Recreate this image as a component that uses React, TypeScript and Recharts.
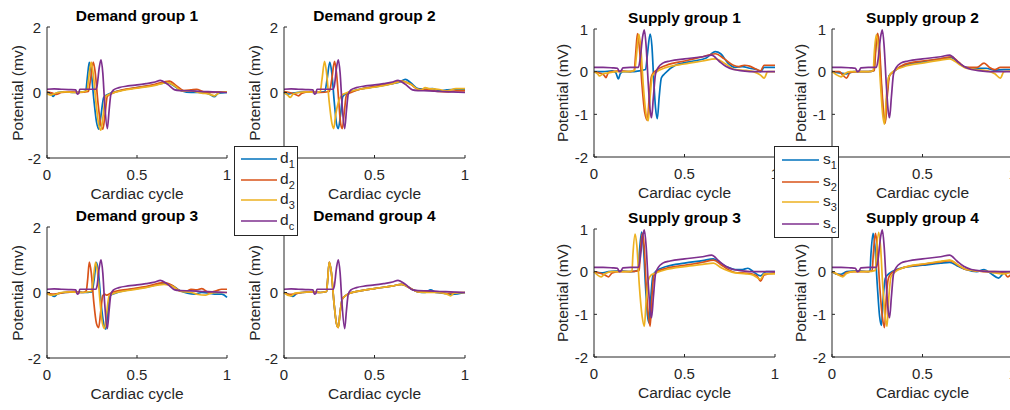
import React from 'react';
import { LineChart, Line, XAxis, YAxis } from 'recharts';

type Pt = [number, number];

const COLORS = ['#0072BD', '#D95319', '#EDB120', '#7E2F8E'];
const FONT = '"Liberation Sans", Arial, Helvetica, sans-serif';
const INK = '#262626';

const xTicks = [0, 0.5, 1];
const demandTicks = [-2, 0, 2];
const supplyTicks = [-2, -1, 0, 1];

const demandTitles = ['Demand group 1', 'Demand group 2', 'Demand group 3', 'Demand group 4'];
const supplyTitles = ['Supply group 1', 'Supply group 2', 'Supply group 3', 'Supply group 4'];
const demandNames = ['1', '2', '3', 'c'];
const supplyNames = ['1', '2', '3', 'c'];

// shared reference waveforms
const dcWave: Pt[] = [[0,0.1],[0.04,0.11],[0.08,0.1],[0.12,0.09],[0.16,0.08],[0.168,-0.05],[0.176,-0.03],[0.182,0.1],[0.22,0.1],[0.27,0.1],[0.278,0.2],[0.29,0.75],[0.3,1.0],[0.31,0.6],[0.32,-0.3],[0.335,-1.1],[0.345,-0.55],[0.355,-0.05],[0.37,0.08],[0.4,0.15],[0.45,0.2],[0.5,0.23],[0.55,0.27],[0.6,0.32],[0.63,0.37],[0.67,0.25],[0.71,0.08],[0.74,0.06],[0.8,0.05],[0.86,0.03],[0.92,0.02],[1,0.0]];
const scWave: Pt[] = [[0,0.1],[0.05,0.1],[0.1,0.09],[0.13,0.08],[0.14,0.0],[0.15,0.02],[0.16,0.09],[0.2,0.1],[0.245,0.1],[0.255,0.3],[0.268,0.8],[0.278,0.98],[0.288,0.6],[0.3,-0.3],[0.31,-0.9],[0.318,-1.08],[0.328,-0.6],[0.34,-0.05],[0.355,0.1],[0.38,0.2],[0.42,0.25],[0.5,0.3],[0.6,0.35],[0.65,0.39],[0.69,0.25],[0.73,0.12],[0.77,0.05],[0.82,0.02],[0.9,0.0],[1,0.0]];

// demand group 1
const d1g1: Pt[] = [[0,0.0],[0.02,-0.03],[0.035,-0.12],[0.045,-0.05],[0.06,0.0],[0.1,0.02],[0.15,0.0],[0.2,0.02],[0.215,0.05],[0.225,0.5],[0.235,0.92],[0.245,0.65],[0.26,-0.2],[0.275,-0.9],[0.288,-1.12],[0.3,-0.7],[0.315,-0.15],[0.34,-0.05],[0.4,0.05],[0.5,0.15],[0.6,0.23],[0.67,0.3],[0.7,0.22],[0.75,0.05],[0.8,0.0],[0.85,0.0],[0.9,-0.04],[0.93,-0.13],[0.95,-0.03],[1,0.0]];
const d2g1: Pt[] = [[0,0.02],[0.03,-0.02],[0.05,-0.06],[0.08,0.0],[0.12,0.02],[0.18,0.0],[0.23,0.03],[0.242,0.4],[0.257,0.93],[0.268,0.6],[0.283,-0.3],[0.298,-0.95],[0.31,-1.12],[0.322,-0.7],[0.335,-0.12],[0.36,-0.03],[0.42,0.08],[0.5,0.15],[0.6,0.25],[0.68,0.35],[0.72,0.2],[0.76,0.06],[0.8,0.08],[0.83,0.1],[0.87,0.02],[0.92,0.0],[0.96,0.02],[1,0.02]];
const d3g1: Pt[] = [[0,-0.03],[0.02,-0.08],[0.04,-0.04],[0.06,0.0],[0.1,0.02],[0.15,0.0],[0.2,0.02],[0.222,0.05],[0.232,0.45],[0.245,0.93],[0.256,0.6],[0.272,-0.3],[0.288,-1.0],[0.3,-1.15],[0.312,-0.7],[0.325,-0.12],[0.35,-0.05],[0.42,0.06],[0.5,0.13],[0.6,0.22],[0.67,0.3],[0.71,0.2],[0.75,0.05],[0.8,0.05],[0.86,-0.02],[0.9,-0.05],[0.93,-0.1],[0.96,0.0],[1,0.02]];

// demand group 2
const d1g2: Pt[] = [[0,0.02],[0.02,-0.05],[0.04,-0.03],[0.07,0.0],[0.12,0.02],[0.18,0.0],[0.225,0.03],[0.238,0.4],[0.253,0.93],[0.264,0.6],[0.278,-0.3],[0.29,-0.95],[0.3,-1.1],[0.312,-0.7],[0.325,-0.12],[0.35,-0.02],[0.42,0.1],[0.5,0.17],[0.6,0.27],[0.64,0.32],[0.67,0.4],[0.7,0.3],[0.74,0.12],[0.78,0.1],[0.82,0.12],[0.86,0.05],[0.9,0.08],[0.95,0.1],[1,0.1]];
const d2g2: Pt[] = [[0,0.03],[0.03,0.0],[0.06,-0.05],[0.08,-0.1],[0.1,-0.02],[0.14,0.02],[0.2,0.0],[0.25,0.03],[0.264,0.4],[0.279,0.95],[0.29,0.6],[0.303,-0.3],[0.313,-0.95],[0.322,-1.1],[0.333,-0.6],[0.345,-0.08],[0.37,0.0],[0.42,0.1],[0.5,0.18],[0.6,0.28],[0.65,0.35],[0.7,0.25],[0.74,0.1],[0.8,0.08],[0.85,0.03],[0.9,0.02],[0.95,0.05],[1,0.05]];
const d3g2: Pt[] = [[0,0.0],[0.02,-0.08],[0.035,-0.15],[0.05,-0.05],[0.08,0.0],[0.12,0.02],[0.18,0.0],[0.2,0.03],[0.21,0.4],[0.224,0.95],[0.235,0.6],[0.25,-0.3],[0.265,-0.95],[0.275,-1.1],[0.285,-0.7],[0.3,-0.3],[0.32,-0.08],[0.34,-0.02],[0.42,0.1],[0.5,0.16],[0.6,0.27],[0.65,0.34],[0.7,0.25],[0.74,0.1],[0.76,0.08],[0.78,0.15],[0.8,0.12],[0.85,0.1],[0.9,0.05],[0.95,0.12],[1,0.12]];

// demand group 3
const d1g3: Pt[] = [[0,-0.02],[0.02,-0.06],[0.04,-0.12],[0.06,-0.04],[0.1,0.0],[0.15,0.02],[0.2,0.0],[0.25,0.02],[0.262,0.4],[0.275,0.92],[0.286,0.6],[0.3,-0.3],[0.315,-0.95],[0.327,-1.12],[0.338,-0.6],[0.35,-0.1],[0.38,-0.02],[0.45,0.08],[0.55,0.16],[0.65,0.27],[0.7,0.2],[0.74,0.05],[0.78,-0.02],[0.82,-0.05],[0.86,0.0],[0.9,-0.02],[0.94,-0.05],[0.97,-0.05],[1,-0.15]];
const d2g3: Pt[] = [[0,0.0],[0.03,-0.05],[0.06,-0.03],[0.1,0.0],[0.15,0.02],[0.2,0.0],[0.218,0.05],[0.226,0.4],[0.235,0.93],[0.246,0.6],[0.26,-0.3],[0.275,-0.95],[0.287,-1.07],[0.298,-0.6],[0.31,-0.1],[0.32,-0.05],[0.33,-0.08],[0.36,0.0],[0.45,0.1],[0.55,0.18],[0.65,0.3],[0.7,0.2],[0.74,0.05],[0.78,0.05],[0.8,0.1],[0.83,0.08],[0.86,0.12],[0.9,0.0],[0.94,0.05],[0.97,0.1],[1,0.1]];
const d3g3: Pt[] = [[0,-0.03],[0.02,-0.08],[0.05,-0.06],[0.08,0.0],[0.12,0.02],[0.18,0.0],[0.245,0.03],[0.257,0.4],[0.27,0.93],[0.281,0.6],[0.295,-0.3],[0.308,-0.95],[0.32,-1.1],[0.332,-0.6],[0.345,-0.1],[0.37,-0.03],[0.45,0.06],[0.55,0.15],[0.65,0.25],[0.7,0.18],[0.74,0.04],[0.8,0.0],[0.84,-0.06],[0.88,-0.08],[0.9,-0.04],[0.95,0.0],[1,0.0]];

// demand group 4
const d1g4: Pt[] = [[0,0.0],[0.02,-0.04],[0.05,-0.12],[0.07,-0.03],[0.1,0.0],[0.15,0.02],[0.2,0.0],[0.235,0.03],[0.24,0.3],[0.25,0.92],[0.262,0.6],[0.276,-0.3],[0.29,-0.95],[0.3,-1.06],[0.31,-0.6],[0.322,-0.2],[0.335,-0.12],[0.36,-0.03],[0.42,0.05],[0.5,0.12],[0.6,0.2],[0.65,0.25],[0.7,0.12],[0.74,0.02],[0.78,0.0],[0.81,0.08],[0.84,0.0],[0.9,-0.03],[0.93,-0.06],[1,0.0]];
const d2g4: Pt[] = [[0,0.0],[0.03,-0.06],[0.06,-0.04],[0.1,0.0],[0.15,0.02],[0.2,0.0],[0.235,0.03],[0.24,0.3],[0.25,0.93],[0.262,0.6],[0.276,-0.3],[0.29,-0.95],[0.3,-1.07],[0.31,-0.6],[0.322,-0.2],[0.335,-0.12],[0.36,-0.03],[0.42,0.05],[0.5,0.12],[0.6,0.2],[0.65,0.25],[0.7,0.12],[0.74,0.02],[0.8,0.02],[0.86,0.0],[0.9,-0.03],[0.95,0.0],[1,0.0]];
const d3g4: Pt[] = [[0,0.0],[0.02,-0.08],[0.04,-0.1],[0.06,-0.02],[0.1,0.0],[0.15,0.02],[0.2,0.0],[0.235,0.03],[0.24,0.3],[0.25,0.93],[0.262,0.6],[0.276,-0.3],[0.29,-0.95],[0.3,-1.07],[0.31,-0.6],[0.322,-0.2],[0.335,-0.12],[0.36,-0.03],[0.42,0.05],[0.5,0.12],[0.6,0.2],[0.65,0.25],[0.7,0.12],[0.74,0.02],[0.8,0.0],[0.85,0.0],[0.9,-0.05],[0.92,-0.1],[0.94,-0.02],[1,0.0]];

// supply group 1
const s1g1: Pt[] = [[0,0.0],[0.05,0.0],[0.1,0.02],[0.12,-0.02],[0.135,-0.17],[0.145,-0.05],[0.16,0.0],[0.2,0.0],[0.25,0.02],[0.285,0.05],[0.295,0.4],[0.31,0.88],[0.32,0.6],[0.33,-0.2],[0.34,-0.85],[0.35,-1.1],[0.36,-0.6],[0.372,-0.15],[0.39,-0.05],[0.45,0.15],[0.55,0.25],[0.62,0.32],[0.67,0.47],[0.7,0.42],[0.74,0.2],[0.78,0.1],[0.82,0.12],[0.86,0.08],[0.9,0.05],[0.92,0.0],[0.94,0.1],[1,0.1]];
const s2g1: Pt[] = [[0,0.0],[0.03,-0.03],[0.055,-0.08],[0.066,-0.14],[0.08,-0.02],[0.1,0.0],[0.15,0.02],[0.2,0.0],[0.222,0.03],[0.23,0.4],[0.24,0.89],[0.25,0.6],[0.265,-0.3],[0.28,-0.95],[0.295,-1.14],[0.305,-0.6],[0.318,-0.1],[0.335,0.0],[0.4,0.15],[0.5,0.25],[0.6,0.35],[0.67,0.42],[0.72,0.3],[0.77,0.15],[0.8,0.12],[0.83,0.15],[0.86,0.13],[0.9,0.05],[0.92,0.02],[0.94,0.15],[1,0.15]];
const s3g1: Pt[] = [[0,0.0],[0.02,-0.05],[0.03,-0.1],[0.05,-0.05],[0.08,-0.03],[0.12,0.0],[0.18,0.0],[0.225,0.03],[0.235,0.4],[0.247,0.88],[0.258,0.6],[0.272,-0.3],[0.288,-1.0],[0.3,-1.15],[0.31,-0.6],[0.322,-0.1],[0.34,-0.02],[0.4,0.1],[0.5,0.18],[0.6,0.25],[0.67,0.3],[0.72,0.2],[0.78,0.05],[0.84,0.03],[0.88,0.0],[0.92,-0.08],[0.94,-0.15],[0.96,0.0],[1,0.0]];

// supply group 2
const s1g2: Pt[] = [[0,0.0],[0.04,-0.03],[0.08,-0.05],[0.12,0.0],[0.2,0.0],[0.232,0.03],[0.238,0.4],[0.25,0.88],[0.26,0.6],[0.272,-0.3],[0.284,-1.0],[0.293,-1.2],[0.303,-0.6],[0.315,-0.1],[0.34,0.0],[0.4,0.15],[0.5,0.23],[0.6,0.3],[0.66,0.33],[0.7,0.2],[0.74,0.1],[0.8,0.08],[0.85,0.08],[0.9,0.03],[0.95,0.05],[1,0.05]];
const s2g2: Pt[] = [[0,0.0],[0.04,0.0],[0.06,-0.08],[0.08,-0.15],[0.1,-0.02],[0.14,0.0],[0.2,0.0],[0.234,0.03],[0.24,0.4],[0.252,0.9],[0.262,0.6],[0.274,-0.3],[0.286,-1.0],[0.295,-1.2],[0.305,-0.6],[0.318,-0.1],[0.34,0.0],[0.4,0.17],[0.5,0.25],[0.6,0.3],[0.66,0.35],[0.7,0.22],[0.74,0.1],[0.8,0.1],[0.84,0.2],[0.87,0.1],[0.9,0.05],[0.93,0.1],[1,0.1]];
const s3g2: Pt[] = [[0,0.0],[0.02,-0.06],[0.05,-0.12],[0.07,-0.05],[0.1,0.0],[0.2,0.0],[0.228,0.03],[0.233,0.4],[0.245,0.86],[0.255,0.6],[0.268,-0.3],[0.28,-1.0],[0.29,-1.23],[0.3,-0.6],[0.312,-0.15],[0.33,-0.02],[0.4,0.12],[0.5,0.2],[0.6,0.27],[0.65,0.3],[0.7,0.18],[0.74,0.08],[0.8,0.05],[0.86,0.02],[0.9,-0.05],[0.93,-0.15],[0.95,0.0],[1,0.02]];

// supply group 3
const s1g3: Pt[] = [[0,0.0],[0.04,-0.03],[0.08,0.0],[0.15,0.02],[0.2,0.0],[0.245,0.03],[0.25,0.4],[0.263,0.93],[0.273,0.6],[0.284,-0.3],[0.295,-1.0],[0.304,-1.2],[0.314,-0.6],[0.325,-0.1],[0.345,0.02],[0.4,0.12],[0.5,0.2],[0.6,0.26],[0.66,0.3],[0.7,0.2],[0.74,0.1],[0.78,0.05],[0.82,0.05],[0.85,0.08],[0.88,0.0],[0.92,-0.1],[0.95,0.0],[1,0.0]];
const s2g3: Pt[] = [[0,0.0],[0.03,-0.03],[0.06,-0.08],[0.08,-0.12],[0.1,-0.03],[0.14,0.0],[0.2,0.0],[0.25,0.03],[0.255,0.4],[0.267,0.9],[0.277,0.6],[0.288,-0.3],[0.3,-1.0],[0.31,-1.28],[0.32,-0.6],[0.33,-0.1],[0.35,0.0],[0.4,0.08],[0.5,0.15],[0.6,0.22],[0.66,0.27],[0.7,0.17],[0.74,0.05],[0.78,-0.02],[0.82,-0.03],[0.87,-0.05],[0.9,-0.1],[0.92,-0.22],[0.94,-0.08],[1,-0.03]];
const s3g3: Pt[] = [[0,0.0],[0.02,-0.08],[0.04,-0.12],[0.06,-0.05],[0.1,0.0],[0.2,0.0],[0.21,0.03],[0.215,0.4],[0.227,0.88],[0.237,0.6],[0.25,-0.3],[0.266,-1.05],[0.278,-1.28],[0.288,-0.7],[0.3,-0.2],[0.315,-0.08],[0.33,-0.05],[0.4,0.05],[0.5,0.12],[0.6,0.17],[0.66,0.2],[0.7,0.1],[0.74,0.02],[0.78,-0.03],[0.84,-0.05],[0.88,-0.08],[0.92,-0.18],[0.94,-0.05],[1,-0.05]];

// supply group 4
const s1g4: Pt[] = [[0,0.0],[0.02,-0.05],[0.05,-0.06],[0.08,0.0],[0.15,0.02],[0.2,0.0],[0.21,0.03],[0.215,0.4],[0.227,0.9],[0.237,0.6],[0.25,-0.3],[0.263,-1.05],[0.273,-1.26],[0.283,-0.6],[0.295,-0.15],[0.32,-0.03],[0.4,0.1],[0.5,0.15],[0.6,0.2],[0.65,0.22],[0.7,0.12],[0.74,0.05],[0.8,0.0],[0.84,0.05],[0.88,-0.05],[0.92,-0.15],[0.95,-0.03],[1,0.0]];
const s2g4: Pt[] = [[0,0.0],[0.03,-0.06],[0.06,-0.1],[0.08,-0.02],[0.12,0.0],[0.2,0.0],[0.222,0.03],[0.228,0.4],[0.24,0.9],[0.25,0.6],[0.263,-0.3],[0.278,-1.05],[0.29,-1.31],[0.3,-0.6],[0.312,-0.15],[0.33,-0.03],[0.4,0.1],[0.5,0.17],[0.6,0.23],[0.65,0.26],[0.7,0.14],[0.74,0.05],[0.8,0.02],[0.85,0.0],[0.9,0.0],[0.95,-0.02],[0.97,-0.12],[1,0.0]];
const s3g4: Pt[] = [[0,0.0],[0.02,-0.04],[0.06,-0.12],[0.08,-0.04],[0.12,0.0],[0.2,0.0],[0.24,0.03],[0.245,0.4],[0.258,0.92],[0.268,0.6],[0.28,-0.3],[0.294,-1.05],[0.304,-1.28],[0.314,-0.6],[0.326,-0.12],[0.345,-0.02],[0.4,0.1],[0.5,0.18],[0.6,0.24],[0.65,0.27],[0.7,0.15],[0.74,0.05],[0.8,0.02],[0.86,0.0],[0.9,-0.03],[0.94,-0.05],[1,0.0]];

const demandSeries: Pt[][][] = [
  [d1g1, d2g1, d3g1, dcWave],
  [d1g2, d2g2, d3g2, dcWave],
  [d1g3, d2g3, d3g3, dcWave],
  [d1g4, d2g4, d3g4, dcWave],
];
const supplySeries: Pt[][][] = [
  [s1g1, s2g1, s3g1, scWave],
  [s1g2, s2g2, s3g2, scWave],
  [s1g3, s2g3, s3g3, scWave],
  [s1g4, s2g4, s3g4, scWave],
];

// plot boxes [left, top, width, height]
const demandBoxes = [[47, 27, 180, 131], [284, 27, 181, 131], [47, 227, 180, 131], [284, 227, 181, 131]];
const supplyBoxes = [[594, 29, 181, 128], [832, 29, 181, 128], [594, 229, 181, 128], [832, 229, 181, 128]];

const toRows = (pts: Pt[]) => pts.map(([x, y]) => ({ x, y }));

const L = 60;
const T = 12;
const R = 14;
const B = 30;

function XTick({ x, y, payload }: any) {
  return (
    <g>
      <line x1={x} y1={y} x2={x} y2={y - 3} stroke={INK} />
      <text x={x} y={y + 22} textAnchor="middle" fontSize={15} fill={INK} fontFamily={FONT}>
        {String(payload.value)}
      </text>
    </g>
  );
}

function YTick({ x, y, payload }: any) {
  return (
    <g>
      <line x1={x} y1={y} x2={x + 3} y2={y} stroke={INK} />
      <text x={x - 6} y={y + 5.5} textAnchor="end" fontSize={15} fill={INK} fontFamily={FONT}>
        {String(payload.value)}
      </text>
    </g>
  );
}

const textBase: React.CSSProperties = {
  position: 'absolute',
  fontFamily: FONT,
  fontSize: 15.5,
  whiteSpace: 'nowrap',
  lineHeight: 1.2,
  color: INK,
};

interface PanelProps {
  title: string;
  yLabel: string;
  box: number[];
  yTicks: number[];
  series: Pt[][];
  yLabelOffset: number;
}

function Panel({ title, yLabel, box, yTicks, series, yLabelOffset }: PanelProps) {
  const [left, top, w, h] = box;
  return (
    <>
      <div style={{ position: 'absolute', left: left - L, top: top - T }}>
        <LineChart width={w + L + R} height={h + T + B} margin={{ top: T, right: R, bottom: 0, left: 0 }}>
          <XAxis
            type="number"
            dataKey="x"
            domain={[0, 1]}
            ticks={xTicks}
            interval={0}
            height={B}
            tickSize={0}
            tickMargin={0}
            tick={<XTick />}
            axisLine={{ stroke: INK }}
          />
          <YAxis
            type="number"
            domain={[yTicks[0], yTicks[yTicks.length - 1]]}
            ticks={yTicks}
            interval={0}
            width={L}
            tickSize={0}
            tickMargin={0}
            tick={<YTick />}
            axisLine={{ stroke: INK }}
          />
          {series.map((s, i) => (
            <Line
              key={i}
              data={toRows(s)}
              dataKey="y"
              type="monotone"
              stroke={COLORS[i]}
              strokeWidth={1.7}
              dot={false}
              activeDot={false}
              isAnimationActive={false}
            />
          ))}
        </LineChart>
      </div>
      <div style={{ ...textBase, color: '#000', fontWeight: 'bold', left: left + w / 2, top: top - 11.5, transform: 'translate(-50%, -50%)' }}>
        {title}
      </div>
      <div style={{ ...textBase, left: left + w / 2, top: top + h + 36, transform: 'translate(-50%, -50%)' }}>
        Cardiac cycle
      </div>
      <div style={{ ...textBase, left: left - yLabelOffset, top: top + h / 2, transform: 'translate(-50%, -50%) rotate(-90deg)' }}>
        {yLabel}
      </div>
    </>
  );
}

interface LegendBoxProps {
  left: number;
  top: number;
  width: number;
  height: number;
  letter: string;
  names: string[];
  rows: number[];
  lineX: number;
  lineLen: number;
  textX: number;
}

function LegendBox({ left, top, width, height, letter, names, rows, lineX, lineLen, textX }: LegendBoxProps) {
  return (
    <div style={{ position: 'absolute', left, top, width, height, boxSizing: 'border-box', border: `1px solid ${INK}`, background: '#fff' }}>
      <svg width={width - 2} height={height - 2} style={{ display: 'block', position: 'absolute', left: 0, top: 0 }}>
        {names.map((n, i) => (
          <g key={n}>
            <line x1={lineX} y1={rows[i]} x2={lineX + lineLen} y2={rows[i]} stroke={COLORS[i]} strokeWidth={1.7} />
            <text x={textX} y={rows[i] + 4} fontSize={15.5} fill={INK} fontFamily={FONT}>
              {letter}
              <tspan dy={5} fontSize={11}>{n}</tspan>
            </text>
          </g>
        ))}
      </svg>
    </div>
  );
}

export default function App() {
  return (
    <div style={{ position: 'fixed', left: 0, top: 0, width: 1010, height: 410, overflow: 'hidden', background: '#fff' }}>
      {demandBoxes.map((b, i) => (
        <Panel key={`d${i}`} title={demandTitles[i]} yLabel="Potential (mv)" box={b} yTicks={demandTicks} series={demandSeries[i]} yLabelOffset={29} />
      ))}
      {supplyBoxes.map((b, i) => (
        <Panel key={`s${i}`} title={supplyTitles[i]} yLabel="Potential (mV)" box={b} yTicks={supplyTicks} series={supplySeries[i]} yLabelOffset={31} />
      ))}
      <LegendBox left={234} top={146} width={64} height={90} letter="d" names={demandNames} rows={[12, 33, 53, 74]} lineX={6} lineLen={36} textX={45} />
      <LegendBox left={774} top={146} width={65} height={92} letter="s" names={supplyNames} rows={[13, 35, 55, 77]} lineX={7} lineLen={37} textX={48} />
    </div>
  );
}
